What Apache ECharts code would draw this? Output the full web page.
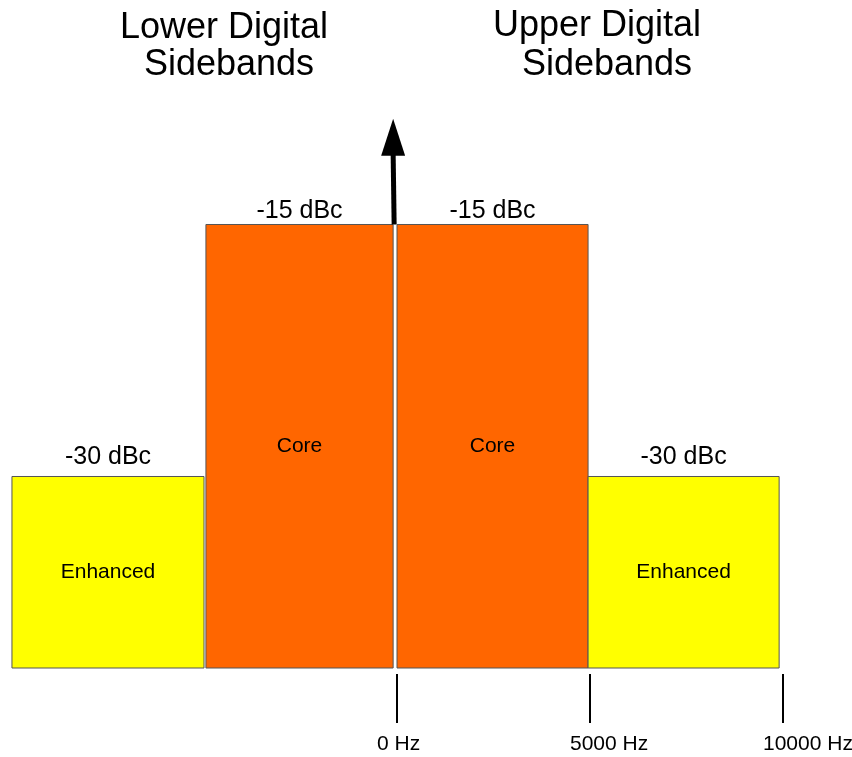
<!DOCTYPE html>
<html><head><meta charset="utf-8">
<script src="https://cdn.jsdelivr.net/npm/echarts@6/dist/echarts.min.js"></script>
<style>html,body{margin:0;padding:0;background:#fff}#c{width:852px;height:757px}</style>
</head><body><div id="c"></div>
<script>
// ---- data ----
const bandNames = ['Enhanced', 'Core', 'Core', 'Enhanced'];
const bandStartHz = [-9975, -4950, 0, 4950];
const bandEndHz = [-5000, -100, 4950, 9900];
const bandLevelDbc = [-30, -15, -15, -30];
const levelLabels = ['-30 dBc', '-15 dBc', '-15 dBc', '-30 dBc'];
const tickValuesHz = [0, 5000, 10000];
const tickUnit = ' Hz';
const carrierHz = -100;
const carrierFromDbc = -15;
const carrierToDbc = -8.7;
const sideTitles = ['Lower Digital\n Sidebands', 'Upper Digital\n  Sidebands'];

// ---- styling ----
const FONT = '"Liberation Sans", Arial, Helvetica, sans-serif';
const Y_MIN = -41.4, Y_MAX = -5;
const bandColor = { Enhanced: '#FFFF00', Core: '#FF6600' };
const labelGap = { Enhanced: 19, Core: 13 };

const bandData = bandNames.map((n, i) => [bandStartHz[i], bandEndHz[i], bandLevelDbc[i]]);

function renderBand(params, api) {
  const i = params.dataIndex;
  const name = bandNames[i];
  const p0 = api.coord([api.value(0), api.value(2)]);
  const p1 = api.coord([api.value(1), Y_MIN]);
  const cx = (p0[0] + p1[0]) / 2;
  return {
    type: 'group',
    children: [
      { type: 'rect', shape: { x: p0[0], y: p0[1], width: p1[0] - p0[0], height: p1[1] - p0[1] },
        style: { fill: bandColor[name], stroke: '#555555', lineWidth: 1 } },
      { type: 'text', x: cx, y: (p0[1] + p1[1]) / 2,
        style: { text: name, align: 'center', verticalAlign: 'middle', fontSize: 21, fontFamily: FONT, fill: '#000' } },
      { type: 'text', x: cx, y: p0[1] - labelGap[name],
        style: { text: levelLabels[i], align: 'center', verticalAlign: 'middle', fontSize: 25, fontFamily: FONT, fill: '#000' } }
    ]
  };
}

function renderArrow(params, api) {
  const p0 = api.coord([api.value(0), api.value(1)]);
  const p1 = api.coord([api.value(0), api.value(2)]);
  const headLen = 37, halfW = 12;
  return {
    type: 'group',
    children: [
      { type: 'line', shape: { x1: p0[0] + 1, y1: p0[1], x2: p1[0], y2: p1[1] + headLen - 2 },
        style: { stroke: '#000', lineWidth: 5 } },
      { type: 'polygon', shape: { points: [[p1[0] - halfW, p1[1] + headLen], [p1[0] + halfW, p1[1] + headLen], [p1[0], p1[1]]] },
        style: { fill: '#000' } }
    ]
  };
}

const chart = echarts.init(document.getElementById('c'), null, { renderer: 'canvas' });
chart.setOption({
  animation: false,
  backgroundColor: '#ffffff',
  grid: { left: 11, right: 69, top: 56.5, bottom: 89, containLabel: false, outerBoundsMode: 'none' },
  xAxis: {
    type: 'value', min: -10000, max: 10000, position: 'bottom', offset: 6,
    axisLine: { show: false }, splitLine: { show: false },
    axisTick: { show: true, customValues: tickValuesHz, length: 49, lineStyle: { color: '#000', width: 2 } },
    axisLabel: { show: true, customValues: tickValuesHz, formatter: v => v + tickUnit, margin: 60,
      fontSize: 21, fontFamily: FONT, color: '#000', align: 'left', padding: [0, 0, 0, -20] }
  },
  yAxis: { type: 'value', min: Y_MIN, max: Y_MAX, show: false },
  graphic: [
    { type: 'text', x: 224, y: 10, style: { text: sideTitles[0], align: 'center', verticalAlign: 'top', fontSize: 36, lineHeight: 37, fontFamily: FONT, fill: '#000' } },
    { type: 'text', x: 597, y: 7, style: { text: sideTitles[1], align: 'center', verticalAlign: 'top', fontSize: 36, lineHeight: 39, fontFamily: FONT, fill: '#000' } }
  ],
  series: [
    { type: 'custom', renderItem: renderBand, data: bandData, encode: { x: [0, 1], y: 2 }, clip: false },
    { type: 'custom', renderItem: renderArrow, data: [[carrierHz, carrierFromDbc, carrierToDbc]], encode: { x: 0, y: [1, 2] }, clip: false, z: 5 }
  ]
});
</script>
</body></html>
